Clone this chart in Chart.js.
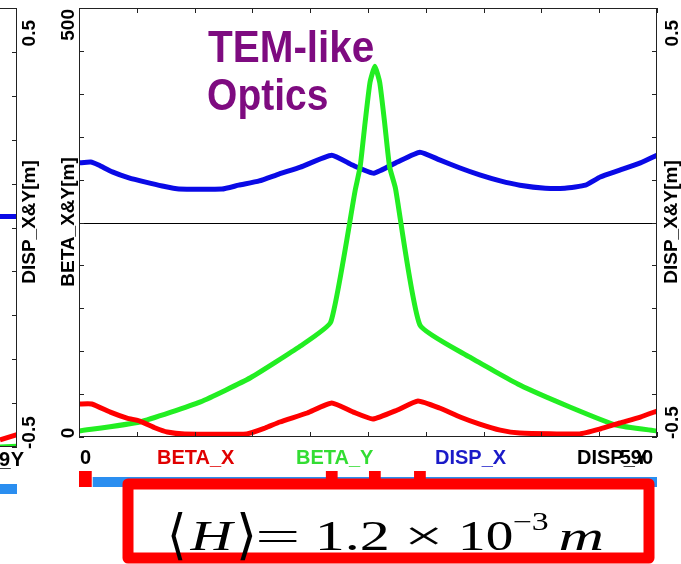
<!DOCTYPE html>
<html><head><meta charset="utf-8">
<script src="https://cdn.jsdelivr.net/npm/chart.js@4.4.1/dist/chart.umd.min.js"></script>
<style>
html,body{margin:0;padding:0;background:#fff;}
#wrap{position:relative;width:681px;height:564px;overflow:hidden;background:#fff;}
canvas{position:absolute;top:0;left:0;}
</style></head><body>
<div id="wrap">
<canvas id="leftc" width="40" height="564"></canvas>
<canvas id="mainc" width="681" height="564"></canvas>
</div>
<script>
// ---- data (s in metres along the line) ----
const sBetaX = [0, 13, 32, 49, 62, 78, 90, 108, 171, 190, 205, 233, 258, 280, 300, 325, 346, 368, 389, 409, 430, 450, 511, 532, 552, 573, 590];
const betaX  = [38.5, 38.5, 29, 22, 18.6, 10.5, 5.8, 3.5, 3.5, 10.5, 17.5, 28, 39.6, 29, 21, 31.5, 42, 33.8, 23.3, 15, 8, 4.7, 3.5, 9.3, 16.3, 23.3, 30.3];
const sBetaY = [0, 62, 124, 175, 226, 257, 282, 287, 292, 297, 302, 307, 312, 317, 323, 348, 399, 450, 501, 548, 590];
const betaY  = [7, 17.5, 41, 69, 106, 134, 288, 315, 366, 413, 432, 413, 366, 315, 290, 130.5, 93, 60.6, 35, 14, 7];
const sDispX = [0, 12, 20, 34, 51, 68, 85, 102, 146, 163, 184, 204, 226, 258, 279, 301, 325, 348, 368, 389, 409, 430, 450, 476, 496, 517, 532, 552, 573, 590];
const dispX  = [0.139, 0.141, 0.134, 0.118, 0.104, 0.094, 0.085, 0.078, 0.078, 0.087, 0.097, 0.113, 0.129, 0.157, 0.134, 0.115, 0.141, 0.164, 0.146, 0.127, 0.111, 0.097, 0.087, 0.080, 0.080, 0.087, 0.106, 0.122, 0.139, 0.157];

const betaTicks = [0,50,100,150,200,250,300,350,400,450,500];
const dispTicks = [-0.5,-0.4,-0.3,-0.2,-0.1,0,0.1,0.2,0.3,0.4,0.5];
const sTicks = [0,59,118,177,236,295,354,413,472,531,590];
const betaTickLabels = ['0','500'];
const dispTickLabels = ['-0.5','0.5'];
const sTickLabels = ['0','590'];
const legendNames = ['BETA_X','BETA_Y','DISP_X','DISP_Y'];

// lattice elements (s start, s end)
const latBlue = [[14, 590]];
const latRed  = [[0, 13]];
const latBend = [[252, 264], [296, 308], [342, 354]];

// left neighbouring panel (only its right edge is visible)
const leftS = [0, 1];
const leftDisp = [0.025, 0.025];
const leftBetaX = [8, 14];
const leftBetaY = [0, 1];

const toXY = (xs, ys) => xs.map((x, i) => ({x, y: ys[i]}));
const RED = '#ff0000', GREEN = '#22ee22', BLUE = '#0a0ae6';
const FONT = '"Liberation Sans", Arial, sans-serif';
const SF = '"Liberation Serif", "Times New Roman", serif';

function rotText(ctx, txt, x, y, font, color, align) {
  ctx.save();
  ctx.translate(x, y);
  ctx.rotate(-Math.PI / 2);
  ctx.font = font; ctx.fillStyle = color;
  ctx.textAlign = align || 'center'; ctx.textBaseline = 'middle';
  ctx.fillText(txt, 0, 0);
  ctx.restore();
}
// draw text so that its ink spans x0..x1 (horizontal stretch), on a baseline
function fitText(ctx, txt, x0, x1, base, font) {
  ctx.save();
  ctx.font = font; ctx.textAlign = 'left'; ctx.textBaseline = 'alphabetic';
  const m = ctx.measureText(txt);
  const inkL = -m.actualBoundingBoxLeft, inkR = m.actualBoundingBoxRight;
  const k = (x1 - x0) / (inkR - inkL);
  ctx.translate(x0, base);
  ctx.scale(k, 1);
  ctx.fillText(txt, -inkL, 0);
  ctx.restore();
}

const decor = {
  id: 'decor',
  beforeDatasetsDraw(chart) {
    const {ctx, chartArea: a, scales} = chart;
    ctx.save();
    const y0 = Math.round(scales.yD.getPixelForValue(0)) + 0.5;
    ctx.strokeStyle = '#000'; ctx.lineWidth = 1;
    ctx.beginPath(); ctx.moveTo(a.left, y0); ctx.lineTo(a.right, y0); ctx.stroke();
    ctx.restore();
  },
  afterDraw(chart) {
    const {ctx, chartArea: a, scales} = chart;
    const xs = scales.x, yb = scales.yB, yd = scales.yD;
    ctx.save();
    // frame
    ctx.strokeStyle = '#222'; ctx.lineWidth = 1;
    ctx.strokeRect(a.left + 0.5, a.top + 0.5, a.right - a.left - 1, a.bottom - a.top - 1);
    // inward ticks
    ctx.beginPath();
    betaTicks.forEach(v => { const y = Math.round(yb.getPixelForValue(v)) + 0.5; ctx.moveTo(a.left, y); ctx.lineTo(a.left + 5, y); });
    dispTicks.forEach(v => { const y = Math.round(yd.getPixelForValue(v)) + 0.5; ctx.moveTo(a.right, y); ctx.lineTo(a.right - 5, y); });
    sTicks.forEach(v => { const x = Math.round(xs.getPixelForValue(v)) + 0.5; ctx.moveTo(x, a.bottom); ctx.lineTo(x, a.bottom - 5); ctx.moveTo(x, a.top); ctx.lineTo(x, a.top + 5); });
    ctx.stroke();
    // tick labels (rotated)
    const bf = 'bold 19px ' + FONT;
    rotText(ctx, betaTickLabels[1], 69, a.top + 1, bf, '#000', 'right');
    rotText(ctx, betaTickLabels[0], 69, yb.getPixelForValue(0) - 4, bf, '#000', 'center');
    rotText(ctx, dispTickLabels[1], 673, a.top + 12, bf, '#000', 'right');
    rotText(ctx, dispTickLabels[0], 673, a.bottom + 2, bf, '#000', 'left');
    rotText(ctx, 'BETA_X&Y[m]', 69, 222, bf, '#000', 'center');
    rotText(ctx, 'DISP_X&Y[m]', 672, 222, bf, '#000', 'center');
    // bottom legend row
    ctx.font = 'bold 20px ' + FONT; ctx.textBaseline = 'alphabetic';
    ctx.textAlign = 'left';
    const LB = 464;
    ctx.fillStyle = '#000'; ctx.fillText(sTickLabels[0], 80, LB);
    ctx.fillStyle = '#e00000'; ctx.fillText(legendNames[0], 157, LB);
    ctx.fillStyle = '#33dd33'; ctx.fillText(legendNames[1], 296, LB);
    ctx.fillStyle = '#1a1ac8'; ctx.fillText(legendNames[2], 435, LB);
    ctx.fillStyle = '#000'; ctx.fillText(legendNames[3], 577, LB);
    ctx.textAlign = 'right'; ctx.fillText(sTickLabels[1], 653, LB);
    // lattice bar
    ctx.fillStyle = '#2a8ef0';
    latBlue.forEach(([s0, s1]) => { const x0 = xs.getPixelForValue(s0), x1 = xs.getPixelForValue(s1); ctx.fillRect(x0, 477, x1 - x0, 10); });
    ctx.fillStyle = '#ff0000';
    latRed.forEach(([s0, s1]) => { const x0 = xs.getPixelForValue(s0), x1 = xs.getPixelForValue(s1); ctx.fillRect(x0, 471, x1 - x0, 16); });
    latBend.forEach(([s0, s1]) => { const x0 = xs.getPixelForValue(s0), x1 = xs.getPixelForValue(s1); ctx.fillRect(x0, 471, x1 - x0, 8); });
    // title
    ctx.fillStyle = '#7e0b80';
    fitText(ctx, 'TEM-like', 208, 373, 62, 'bold 44px ' + FONT);
    fitText(ctx, 'Optics', 208, 327, 110, 'bold 44px ' + FONT);
    // red box with formula
    ctx.fillStyle = '#fff';
    ctx.fillRect(128, 484, 521, 80);
    ctx.strokeStyle = '#ff0000'; ctx.lineWidth = 11; ctx.lineJoin = 'round';
    ctx.strokeRect(128, 484, 521, 74);
    ctx.fillStyle = '#000';
    fitText(ctx, '\u27E8', 171, 183, 553, '54px ' + SF);
    fitText(ctx, 'H', 189, 236, 550, 'italic 42px ' + SF);
    fitText(ctx, '\u27E9', 240, 253, 553, '54px ' + SF);
    fitText(ctx, '=', 259, 297, 550, '42px ' + SF);
    fitText(ctx, '1.2', 319, 387, 550, '42px ' + SF);
    fitText(ctx, '\u00D7', 409, 439, 550, '42px ' + SF);
    fitText(ctx, '10', 462, 512, 550, '42px ' + SF);
    fitText(ctx, '\u22123', 514, 548, 530, '25px ' + SF);
    fitText(ctx, 'm', 560, 602, 550, 'italic 42px ' + SF);
    ctx.restore();
  }
};

new Chart(document.getElementById('mainc'), {
  type: 'line',
  data: {
    datasets: [
      {label: 'BETA_X', data: toXY(sBetaX, betaX), yAxisID: 'yB', borderColor: RED},
      {label: 'BETA_Y', data: toXY(sBetaY, betaY), yAxisID: 'yB', borderColor: GREEN},
      {label: 'DISP_X', data: toXY(sDispX, dispX), yAxisID: 'yD', borderColor: BLUE}
    ]
  },
  options: {
    responsive: false, animation: false, devicePixelRatio: 1,
    parsing: false,
    datasets: {line: {borderWidth: 5, pointRadius: 0, tension: 0.15, fill: false, borderJoinStyle: 'round', borderCapStyle: 'round'}},
    layout: {padding: {left: 79, right: 24, top: 8, bottom: 127}},
    plugins: {legend: {display: false}, tooltip: {enabled: false}},
    scales: {
      x: {type: 'linear', min: 0, max: 590, display: false},
      yB: {type: 'linear', min: 0, max: 500, display: false, position: 'left'},
      yD: {type: 'linear', min: -0.5, max: 0.5, display: false, position: 'right'}
    }
  },
  plugins: [decor]
});

const leftDecor = {
  id: 'leftDecor',
  afterDraw(chart) {
    const {ctx, chartArea: a, scales} = chart;
    ctx.save();
    ctx.strokeStyle = '#222'; ctx.lineWidth = 1;
    ctx.beginPath();
    ctx.moveTo(0, a.top + 0.5); ctx.lineTo(a.right - 0.5, a.top + 0.5);
    ctx.lineTo(a.right - 0.5, a.bottom - 0.5); ctx.lineTo(0, a.bottom - 0.5);
    dispTicks.forEach(v => { const y = Math.round(scales.yD.getPixelForValue(v)) + 0.5; ctx.moveTo(a.right, y); ctx.lineTo(a.right - 5, y); });
    ctx.stroke();
    const bf = 'bold 19px ' + FONT;
    rotText(ctx, '0.5', 30, a.top + 12, bf, '#000', 'right');
    rotText(ctx, '-0.5', 30, a.bottom + 2, bf, '#000', 'left');
    rotText(ctx, 'DISP_X&Y[m]', 30, 222, bf, '#000', 'center');
    ctx.font = 'bold 20px ' + FONT; ctx.fillStyle = '#000'; ctx.textAlign = 'right'; ctx.textBaseline = 'alphabetic';
    ctx.fillText('DISP_Y', 24, 466);
    ctx.fillText('59', 10, 466);
    ctx.fillStyle = '#2a8ef0'; ctx.fillRect(0, 484, 17, 10);
    ctx.restore();
  }
};
new Chart(document.getElementById('leftc'), {
  type: 'line',
  data: {
    datasets: [
      {data: toXY(leftS, leftBetaX), yAxisID: 'yB', borderColor: RED},
      {data: toXY(leftS, leftBetaY), yAxisID: 'yB', borderColor: GREEN},
      {data: toXY(leftS, leftDisp), yAxisID: 'yD', borderColor: BLUE}
    ]
  },
  options: {
    responsive: false, animation: false, devicePixelRatio: 1, parsing: false,
    datasets: {line: {borderWidth: 5, pointRadius: 0, fill: false}},
    layout: {padding: {left: 0, right: 23, top: 8, bottom: 117}},
    plugins: {legend: {display: false}, tooltip: {enabled: false}},
    scales: {
      x: {type: 'linear', min: 0, max: 1, display: false},
      yB: {type: 'linear', min: 0, max: 500, display: false},
      yD: {type: 'linear', min: -0.5, max: 0.5, display: false}
    }
  },
  plugins: [leftDecor]
});
</script>
</body></html>
